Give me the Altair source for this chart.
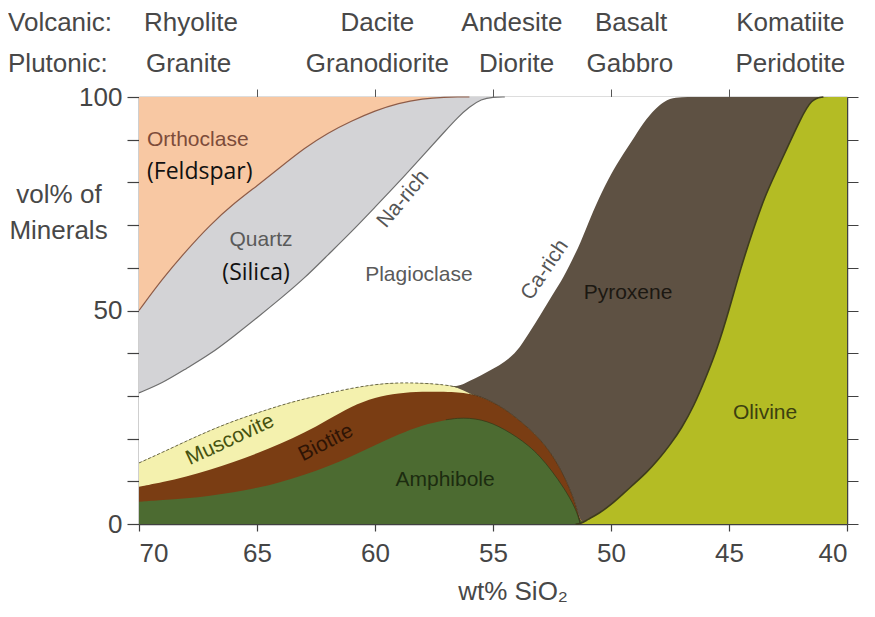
import altair as alt
import pandas as pd

# ---- data -----------------------------------------------------------------
sio2 = [70, 69, 68, 67, 66, 65, 64, 63, 62, 61, 60, 59, 58, 57, 56.5, 56, 55.5, 55,
        54.5, 54, 53.5, 53, 52.5, 52, 51.5, 51.3, 51, 50.5, 50, 49.5, 49, 48.5, 48,
        47.5, 47, 46.5, 46, 45.5, 45, 44.5, 44, 43.5, 43, 42.5, 42, 41.5, 41, 40.5, 40]

# cumulative upper boundaries (vol%) of each mineral field
olivine_top = [0, 0, 0, 0, 0, 0, 0, 0, 0, 0, 0, 0, 0, 0, 0, 0, 0, 0,
               0, 0, 0, 0, 0, 0, 0, 0, 1, 2.5, 4.5, 7, 9.5, 12, 15,
               18.5, 22.5, 27.5, 34, 41, 50, 60, 68.5, 76.5, 82.5, 88.5, 94.5, 99.7, 100, 100, 100]
amphibole_top = [5.2, 5.6, 6.0, 6.6, 7.4, 8.4, 9.8, 11.5, 13.5, 15.8, 18.5, 21.0, 23.2, 24.4, 24.8, 24.8, 24.4, 23.5,
                 22.1, 20.4, 18.4, 15.8, 12.4, 8.5, 3.8, 0, 1, 2.5, 4.5, 7, 9.5, 12, 15,
                 18.5, 22.5, 27.5, 34, 41, 50, 60, 68.5, 76.5, 82.5, 88.5, 94.5, 99.7, 100, 100, 100]
biotite_top = [8.7, 9.8, 11.1, 12.7, 14.5, 16.5, 18.8, 21.3, 24.4, 27.6, 29.7, 30.7, 31.0, 31.0, 30.8, 30.5, 29.8, 28.5,
               26.9, 24.8, 22.5, 19.8, 16.3, 11.5, 5.0, 0, 1, 2.5, 4.5, 7, 9.5, 12, 15,
               18.5, 22.5, 27.5, 34, 41, 50, 60, 68.5, 76.5, 82.5, 88.5, 94.5, 99.7, 100, 100, 100]
muscovite_top = [14.3, 16.8, 19.4, 21.9, 24.1, 26.0, 27.8, 29.3, 30.6, 31.8, 32.7, 33.1, 33.0, 32.6, 32.0, 30.5, 29.8, 28.5,
                 26.9, 24.8, 22.5, 19.8, 16.3, 11.5, 5.0, 0, 1, 2.5, 4.5, 7, 9.5, 12, 15,
                 18.5, 22.5, 27.5, 34, 41, 50, 60, 68.5, 76.5, 82.5, 88.5, 94.5, 99.7, 100, 100, 100]
pyroxene_top = [14.3, 16.8, 19.4, 21.9, 24.1, 26.0, 27.8, 29.3, 30.6, 31.8, 32.7, 33.1, 33.0, 32.6, 32.0, 33.5, 34.8, 36.3,
                38.0, 40.2, 44.5, 48.8, 53.5, 57.8, 63.5, 65.8, 70.0, 76.5, 82.0, 86.5, 90.7, 95.0, 98.0,
                99.8, 100, 100, 100, 100, 100, 100, 100, 100, 100, 100, 100, 100, 100, 100, 100]
plagioclase_top = [30.7, 33.0, 36.4, 39.7, 43.9, 48.3, 52.8, 57.5, 63.0, 68.4, 74.2, 80.0, 86.1, 92.2, 95.2, 97.7, 99.5, 100,
                   100, 100, 100, 100, 100, 100, 100, 100, 100, 100, 100, 100, 100, 100, 100,
                   100, 100, 100, 100, 100, 100, 100, 100, 100, 100, 100, 100, 100, 100, 100, 100]
quartz_top = [50, 57.5, 64, 70, 75, 79.2, 83.6, 88.0, 91.6, 94.4, 96.8, 98.6, 99.6, 100, 100, 100, 100, 100,
              100, 100, 100, 100, 100, 100, 100, 100, 100, 100, 100, 100, 100, 100, 100,
              100, 100, 100, 100, 100, 100, 100, 100, 100, 100, 100, 100, 100, 100, 100, 100]
orthoclase_top = [100] * len(sio2)

minerals = ["Orthoclase", "Quartz", "Plagioclase", "Pyroxene", "Muscovite", "Biotite", "Amphibole", "Olivine"]
tops = [orthoclase_top, quartz_top, plagioclase_top, pyroxene_top, muscovite_top, biotite_top, amphibole_top, olivine_top]
fills = ["#F8C8A3", "#D3D3D6", "#FFFFFF", "#5E5143", "#F4F1AE", "#7A3D13", "#4C6B31", "#B4BC24"]

volcanic_names = ["Rhyolite", "Dacite", "Andesite", "Basalt", "Komatiite"]
volcanic_sio2 = [67.8, 59.9, 54.2, 49.15, 42.4]
plutonic_names = ["Granite", "Granodiorite", "Diorite", "Gabbro", "Peridotite"]
plutonic_sio2 = [67.9, 59.9, 54.0, 49.2, 42.4]

x_ticks = [70, 65, 60, 55, 50, 45, 40]
y_ticks = [0, 10, 20, 30, 40, 50, 60, 70, 80, 90, 100]

# ---- chart ----------------------------------------------------------------
FONT = "Liberation Sans"
CURVE = "basis"
xs = alt.Scale(domain=[70, 40], nice=False, zero=False)
ys = alt.Scale(domain=[0, 100], nice=False, zero=False)


def X(field="sio2", axis=None):
    return alt.X(f"{field}:Q", scale=xs, axis=axis)


def Y(field="vol", axis=None):
    return alt.Y(f"{field}:Q", scale=ys, axis=axis)


layers = []

# areas, painted from the top field downwards (each from 0 to its upper boundary)
for name, top, fill in zip(minerals, tops, fills):
    d = pd.DataFrame({"sio2": sio2, "vol": top})
    layers.append(
        alt.Chart(d).mark_area(interpolate=CURVE, color=fill).encode(
            x=X(), y=Y(), y2=alt.datum(0)
        )
    )


def boundary(top, lo_x, hi_x, color, width=1.0, dash=None, opacity=1.0):
    d = pd.DataFrame({"sio2": sio2, "vol": top})
    d = d[(d.sio2 >= lo_x) & (d.sio2 <= hi_x)]
    kw = dict(interpolate=CURVE, color=color, strokeWidth=width, opacity=opacity)
    if dash:
        kw["strokeDash"] = dash
    return alt.Chart(d).mark_line(**kw).encode(x=X(), y=Y())


layers.append(boundary(quartz_top, 56, 70, "#8E5C48", 1.2))
layers.append(boundary(plagioclase_top, 54.5, 70, "#6E6E6E", 1.2))
layers.append(boundary(muscovite_top, 56.5, 70, "#6B6A45", 1.0, [3, 2]))
layers.append(boundary(amphibole_top, 51.3, 57, "#2E3A1A", 1.0, opacity=0.7))
layers.append(boundary(biotite_top, 51.3, 56, "#3A2A18", 1.0, opacity=0.7))
layers.append(boundary(olivine_top, 41, 51.5, "#3E3C1C", 1.6))

# axes: bottom/left with labels, top/right with ticks only
axis_common = dict(grid=False, title=None, labelFont=FONT, labelFontSize=26, labelColor="#454545",
                   domainColor="#404040", domainWidth=1.5, tickColor="#404040", tickWidth=1.2)
ax_df = pd.DataFrame({"sio2": [70, 40], "vol": [0, 100]})
layers.insert(0, alt.Chart(ax_df).mark_point(opacity=0).encode(
    x=X(axis=alt.Axis(orient="bottom", values=x_ticks, tickSize=7, labelPadding=9, **axis_common)),
    y=Y(axis=alt.Axis(orient="left", values=y_ticks, tickSize=12, labelPadding=5,
                      labelExpr="datum.value % 50 === 0 ? datum.label : ''", **axis_common)),
))
layers.insert(1, alt.Chart(ax_df).mark_point(opacity=0).encode(
    x=X(axis=alt.Axis(orient="top", values=[65, 60, 55, 50, 45], tickSize=8, labels=False, grid=False,
                      title=None, domainColor="#777777", domainWidth=1.5, tickColor="#555555")),
    y=Y(axis=alt.Axis(orient="right", values=y_ticks, tickSize=11, labels=False, grid=False,
                      title=None, domainColor="#404040", domainWidth=1.5, tickColor="#404040")),
))


def label(text, x, y, color, size=21, angle=0, font=FONT, align="center", baseline="middle"):
    d = pd.DataFrame({"sio2": [x], "vol": [y], "t": [text]})
    kw = dict(color=color, fontSize=size, font=font, align=align, baseline=baseline)
    if angle:
        kw["angle"] = angle
    return alt.Chart(d).mark_text(**kw).encode(x=X(), y=Y(), text="t:N")


# field labels
layers += [
    label("Orthoclase", 69.66, 89.9, "#7D4C3A", align="left"),
    label("(Feldspar)", 69.66, 82.4, "#111111", size=23, font="Open Sans", align="left"),
    label("Quartz", 64.83, 66.5, "#5A5A5A"),
    label("(Silica)", 65.04, 58.8, "#111111", size=23, font="Open Sans"),
    label("Na-rich", 58.81, 76.1, "#555555", angle=310),
    label("Plagioclase", 58.14, 58.3, "#5A5A5A"),
    label("Ca-rich", 52.8, 59.5, "#555555", angle=304),
    label("Pyroxene", 49.28, 54.1, "#1C1812"),
    label("Olivine", 43.47, 26.0, "#3C4010"),
    label("Amphibole", 57.03, 10.3, "#1C2C10"),
    label("Biotite", 62.08, 19.0, "#2E1405", angle=333),
    label("Muscovite", 66.14, 19.7, "#46520F", angle=335),
]

# rock names above the plot
GREY = "#484848"
layers.append(label("Volcanic:", 75.55, 115.5, GREY, size=26, align="left", baseline="alphabetic"))
layers.append(label("Plutonic:", 75.55, 105.9, GREY, size=26, align="left", baseline="alphabetic"))
vdf = pd.DataFrame({"sio2": volcanic_sio2, "vol": [115.5] * 5, "t": volcanic_names})
pdf = pd.DataFrame({"sio2": plutonic_sio2, "vol": [105.9] * 5, "t": plutonic_names})
for d in (vdf, pdf):
    layers.append(alt.Chart(d).mark_text(color=GREY, fontSize=26, font=FONT, baseline="alphabetic").encode(
        x=X(), y=Y(), text="t:N"))

# axis titles
layers.append(label("vol% of", 73.39, 75.2, GREY, size=26, baseline="alphabetic"))
layers.append(label("Minerals", 73.41, 66.7, GREY, size=26, baseline="alphabetic"))
layers.append(label("wt% SiO₂", 54.15, -17.8, GREY, size=26, baseline="alphabetic"))

chart = alt.layer(*layers).resolve_axis(x="independent", y="independent").properties(
    width=708, height=427,
    autosize=alt.AutoSizeParams(type="none"),
    padding={"left": 131, "top": 89, "right": 20, "bottom": 85},
    background="white",
).configure_view(stroke=None)

chart.save("out.html", embed_options={"renderer": "svg", "actions": False})
